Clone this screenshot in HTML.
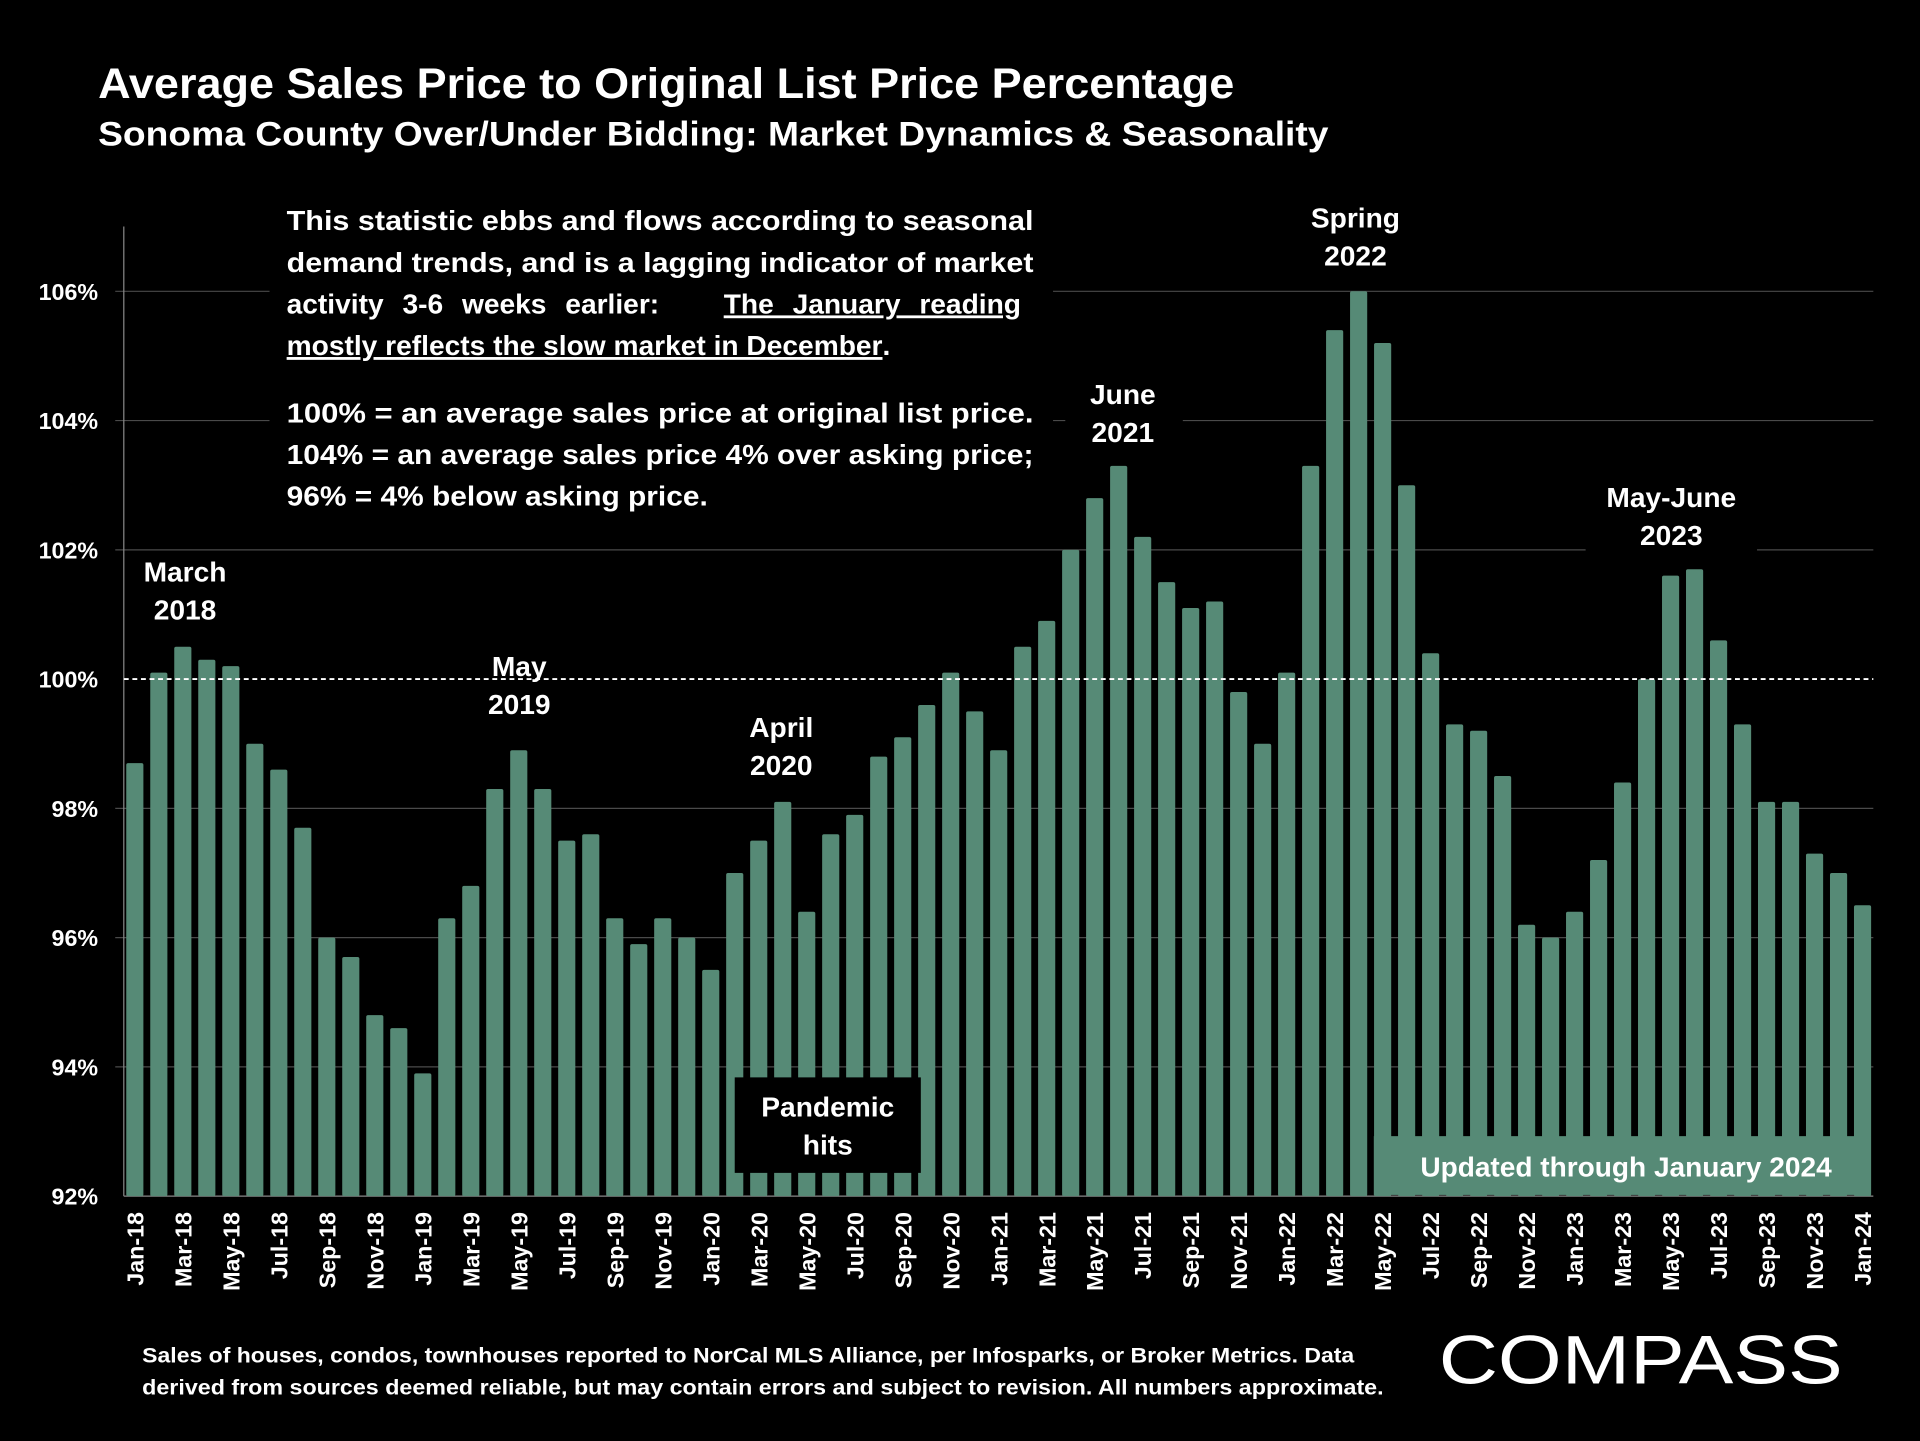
<!DOCTYPE html>
<html><head><meta charset="utf-8"><style>
html,body{margin:0;padding:0;background:#000;}
svg{display:block;font-family:"Liberation Sans",sans-serif;}
</style></head><body>
<svg id="chart" width="1920" height="1441" viewBox="0 0 1568 1177">
<rect width="1568" height="1177" fill="#000"/>
<text x="80" y="80" fill="#fff" font-size="35" font-weight="bold" textLength="928" lengthAdjust="spacingAndGlyphs">Average Sales Price to Original List Price Percentage</text>
<text x="80" y="119" fill="#fff" font-size="28" font-weight="bold" textLength="1005" lengthAdjust="spacingAndGlyphs">Sonoma County Over/Under Bidding: Market Dynamics &amp; Seasonality</text>
<g id="grid"></g>
<g id="bars"></g>
<g id="xlabels"></g>
<g id="ylabels"></g>
<g id="notes" fill="#fff" font-weight="bold" font-size="23">
<rect x="220" y="160" width="640" height="270" fill="#000"/>
<g>
<text x="234" y="188" textLength="610" lengthAdjust="spacingAndGlyphs">This statistic ebbs and flows according to seasonal</text>
<text x="234" y="222" textLength="610" lengthAdjust="spacingAndGlyphs">demand trends, and is a lagging indicator of market</text>
<text x="234" y="256" word-spacing="9">activity 3-6 weeks earlier:  <tspan x="591" text-decoration="underline">The January reading</tspan></text>
<text x="234" y="290"><tspan text-decoration="underline">mostly reflects the slow market in December</tspan>.</text>
<text x="234" y="345" textLength="610" lengthAdjust="spacingAndGlyphs">100% = an average sales price at original list price.</text>
<text x="234" y="379" textLength="610" lengthAdjust="spacingAndGlyphs">104% = an average sales price 4% over asking price;</text>
<text x="234" y="413" textLength="344" lengthAdjust="spacingAndGlyphs">96% = 4% below asking price.</text>
</g>
<rect x="110" y="450" width="84" height="72" fill="#000"/>
<text x="151" y="475" text-anchor="middle">March<tspan x="151" dy="31">2018</tspan></text>
<text x="424" y="552" text-anchor="middle">May<tspan x="424" dy="31">2019</tspan></text>
<rect x="600" y="578" width="76" height="64" fill="#000"/>
<text x="638" y="602" text-anchor="middle">April<tspan x="638" dy="31">2020</tspan></text>
<rect x="870" y="305" width="96" height="64" fill="#000"/>
<text x="917" y="330" text-anchor="middle">June<tspan x="917" dy="31">2021</tspan></text>
<text x="1107" y="186" text-anchor="middle">Spring<tspan x="1107" dy="31">2022</tspan></text>
<rect x="1295" y="390" width="140" height="62" fill="#000"/>
<text x="1365" y="414" text-anchor="middle">May-June<tspan x="1365" dy="31">2023</tspan></text>
<rect x="600" y="880" width="152" height="78" fill="#000"/>
<text x="676" y="912" text-anchor="middle">Pandemic<tspan x="676" dy="31">hits</tspan></text>
<rect x="1122" y="928" width="406" height="48" fill="#568a76"/>
<text x="1328" y="961" text-anchor="middle" textLength="336" lengthAdjust="spacingAndGlyphs">Updated through January 2024</text>
</g>
<text x="116" y="1113" fill="#fff" font-size="17.5" font-weight="bold" textLength="990" lengthAdjust="spacingAndGlyphs">Sales of houses, condos, townhouses reported to NorCal MLS Alliance, per Infosparks, or Broker Metrics. Data</text>
<text x="116" y="1139" fill="#fff" font-size="17.5" font-weight="bold" textLength="1014" lengthAdjust="spacingAndGlyphs">derived from sources deemed reliable, but may contain errors and subject to revision. All numbers approximate.</text>
<text x="1175" y="1130" fill="#fff" font-size="56" textLength="330" lengthAdjust="spacingAndGlyphs">COMPASS</text>
<script>
const months=["Jan","Feb","Mar","Apr","May","Jun","Jul","Aug","Sep","Oct","Nov","Dec"];
const categories=[];for(let y=18;y<=24;y++)for(let m=0;m<12;m++){if(y===24&&m>0)break;categories.push(months[m]+"-"+y);}
const values=[98.7,100.1,100.5,100.3,100.2,99.0,98.6,97.7,96.0,95.7,94.8,94.6,
93.9,96.3,96.8,98.3,98.9,98.3,97.5,97.6,96.3,95.9,96.3,96.0,
95.5,97.0,97.5,98.1,96.4,97.6,97.9,98.8,99.1,99.6,100.1,99.5,
98.9,100.5,100.9,102.0,102.8,103.3,102.2,101.5,101.1,101.2,99.8,99.0,
100.1,103.3,105.4,106.0,105.2,103.0,100.4,99.3,99.2,98.5,96.2,96.0,
96.4,97.2,98.4,100.0,101.6,101.7,100.6,99.3,98.1,98.1,97.3,97.0,96.5];
const yTicks=[92,94,96,98,100,102,104,106];
const NS="http://www.w3.org/2000/svg";
const y=v=>977-(v-92)*52.79;
const x=i=>110+i*19.6;
function mk(t,a,p){const e=document.createElementNS(NS,t);for(const k in a)e.setAttribute(k,a[k]);p.appendChild(e);return e;}
const grid=document.getElementById('grid'),bars=document.getElementById('bars'),xl=document.getElementById('xlabels'),yl=document.getElementById('ylabels');
yTicks.forEach(t=>{
 if(t!==100&&t!==92){const l=mk('line',{x1:94,x2:1530,y1:y(t),y2:y(t),stroke:'#4a4a4a','stroke-width':1},grid);
 
 }
 const tx=mk('text',{x:80,y:y(t)+7,fill:'#fff','font-size':19,'font-weight':'bold','text-anchor':'end'},yl);
 tx.textContent=t+"%";
 
 
});
const ax=mk('line',{x1:101,x2:101,y1:185,y2:977,stroke:'#888','stroke-width':1},grid);


const xa=mk('line',{x1:101,x2:1530,y1:977,y2:977,stroke:'#888','stroke-width':1},grid);


values.forEach((v,i)=>{
 const r=mk('rect',{x:x(i)-7,y:y(v),width:14,height:977-y(v),fill:'#568a76',rx:1.5},bars);
 
 
});
const ref=mk('line',{x1:101,x2:1530,y1:y(100),y2:y(100),stroke:'#fff','stroke-width':1.5,'stroke-dasharray':'4,3'},bars);


categories.forEach((c,i)=>{
 if(i%2)return;
 const t=mk('text',{x:0,y:0,fill:'#fff','font-size':19,'font-weight':'bold','text-anchor':'end',transform:`translate(${x(i)+7},990) rotate(-90)`},xl);
 t.textContent=c;
 
 
});
</script>
</svg>
</body></html>
